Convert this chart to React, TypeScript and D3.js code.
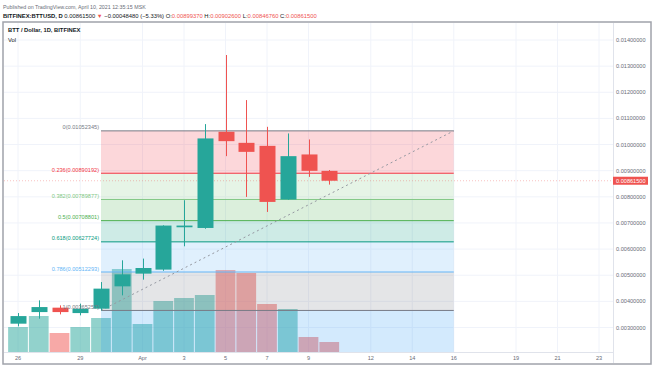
import React from "react";
import * as d3 from "d3";

const dates = ["2021-03-26","2021-03-27","2021-03-28","2021-03-29","2021-03-30","2021-03-31","2021-04-01","2021-04-02","2021-04-03","2021-04-04","2021-04-05","2021-04-06","2021-04-07","2021-04-08","2021-04-09","2021-04-10"];
const opens = [0.003146,0.00359,0.003759,0.003552,0.00372,0.004575,0.005061,0.005215,0.006835,0.006808,0.010487,0.010065,0.00995,0.007897,0.009621,0.0089937];
const highs = [0.003552,0.004038,0.003847,0.003912,0.004739,0.005571,0.005636,0.00691,0.00787,0.010782,0.013425,0.011701,0.010678,0.010425,0.010195,0.009026];
const lows = [0.003042,0.003337,0.003502,0.003464,0.003653,0.00423,0.004831,0.00517,0.006107,0.006778,0.009556,0.007996,0.007421,0.00789,0.008762,0.0084676];
const closes = [0.003437,0.003782,0.00359,0.00372,0.004487,0.005034,0.005276,0.0069,0.0069,0.010234,0.01013,0.00972,0.007805,0.009556,0.008994,0.008615];
const volumes = [25,36,19,25,34,83,28,51,54,57,82,79,48,43,15,10];

const priceTicks = [0.003,0.004,0.005,0.006,0.007,0.008,0.009,0.01,0.011,0.012,0.013,0.014];
const timeTickDates = ["2021-03-26","2021-03-29","2021-04-01","2021-04-03","2021-04-05","2021-04-07","2021-04-09","2021-04-12","2021-04-14","2021-04-16","2021-04-19","2021-04-21","2021-04-23"];
const timeTickLabels = ["26","29","Apr","3","5","7","9","12","14","16","19","21","23"];

const fibLevels = [0, 0.236, 0.382, 0.5, 0.618, 0.786, 1, 1.618];
const fibPrices = [0.01052345, 0.00890192, 0.00789877, 0.00708801, 0.00627724, 0.00512293, 0.00365257, -0.00059351];
const fibColors = ["#787b86", "#f23645", "#81c784", "#4caf50", "#089981", "#64b5f6", "#787b86", "#2196f3"];
const fibStart = "2021-03-30";
const fibEnd = "2021-04-16";

const lastPrice = 0.008615;

const headerParts = [
  { t: "BITFINEX:BTTUSD, D", c: "#131722", b: true },
  { t: " 0.00861500 ", c: "#131722", b: false },
  { t: "▼", c: "#ef5350", b: false },
  { t: " −0.00048480 (−5.33%) O:", c: "#131722", b: false },
  { t: "0.00899370", c: "#ef5350", b: false },
  { t: " H:", c: "#131722", b: false },
  { t: "0.00902600", c: "#ef5350", b: false },
  { t: " L:", c: "#131722", b: false },
  { t: "0.00846760", c: "#ef5350", b: false },
  { t: " C:", c: "#131722", b: false },
  { t: "0.00861500", c: "#ef5350", b: false },
];

const W = 654, H = 366;
const plotL = 4, plotR = 613, plotT = 23, plotB = 352;
const FONT = "'Liberation Sans', Arial, sans-serif";
const UP = "#26a69a", DOWN = "#ef5350";

export default function App() {
  const parse = d3.utcParse("%Y-%m-%d");
  const x = d3.scaleUtc().domain([parse("2021-03-26")!, parse("2021-04-23")!]).range([18, 599]);
  const y = d3.scaleLinear().domain([0.003, 0.014]).range([327.5, 40]);
  const yv = d3.scaleLinear().domain([0, 100]).range([plotB, plotB - 100]);
  const step = x(parse("2021-03-27")!) - x(parse("2021-03-26")!);
  const bodyW = step * 0.77;
  const fx0 = x(parse(fibStart)!), fx1 = x(parse(fibEnd)!);
  const fmt = (v: number) => v.toFixed(8);

  return (
    <svg width={W} height={H} style={{ position: "absolute", left: 0, top: 0, background: "#fff" }} fontFamily={FONT}>
      <defs>
        <clipPath id="plot"><rect x={plotL} y={plotT} width={plotR - plotL} height={plotB - plotT} /></clipPath>
      </defs>
      {/* header */}
      <text x={3} y={8.5} fontSize={5.3} fill="#6a6d78">Published on TradingView.com, April 10, 2021 12:35:15 MSK</text>
      <text x={3} y={18} fontSize={5.85} fill="#131722">
        {headerParts.map((p, i) => (
          <tspan key={i} fill={p.c} fontWeight={p.b ? "bold" : "normal"}>{p.t}</tspan>
        ))}
      </text>
      {/* grid */}
      {priceTicks.map((p, i) => (
        <line key={"hg" + i} x1={plotL} x2={plotR} y1={y(p)} y2={y(p)} stroke="#f0f3fa" />
      ))}
      {timeTickDates.map((d, i) => (
        <line key={"vg" + i} x1={x(parse(d)!)} x2={x(parse(d)!)} y1={plotT} y2={plotB} stroke="#f0f3fa" />
      ))}
      <g clipPath="url(#plot)">
        {/* volume */}
        {dates.map((d, i) => {
          const cx = x(parse(d)!);
          return (
            <rect key={"v" + i} x={cx - step / 2 + 0.5} width={step - 1} y={yv(volumes[i])} height={plotB - yv(volumes[i])}
              fill={closes[i] >= opens[i] ? "rgba(38,166,154,0.5)" : "rgba(239,83,80,0.5)"} />
          );
        })}
        {/* fib bands */}
        {fibLevels.slice(1).map((lvl, i) => {
          const top = y(fibPrices[i]);
          const bot = y(fibPrices[i + 1]);
          return <rect key={"fb" + i} x={fx0} width={fx1 - fx0} y={top} height={bot - top} fill={fibColors[i + 1]} fillOpacity={0.2} />;
        })}
        {fibLevels.map((lvl, i) => (
          <line key={"fl" + i} x1={fx0} x2={fx1} y1={y(fibPrices[i])} y2={y(fibPrices[i])} stroke={fibColors[i]} strokeWidth={1} />
        ))}
        <line x1={fx0} y1={y(fibPrices[6])} x2={fx1} y2={y(fibPrices[0])} stroke="#9598a1" strokeDasharray="2,3" strokeWidth={1} />
        {/* last price line */}
        <line x1={plotL} x2={plotR} y1={y(lastPrice)} y2={y(lastPrice)} stroke={DOWN} strokeOpacity={0.35} strokeDasharray="1,2" />
        {/* candles */}
        {dates.map((d, i) => {
          const cx = Math.round(x(parse(d)!)) + 0.5;
          const up = closes[i] >= opens[i];
          const c = up ? UP : DOWN;
          const t = y(Math.max(opens[i], closes[i]));
          const b = y(Math.min(opens[i], closes[i]));
          return (
            <g key={"c" + i}>
              <line x1={cx} x2={cx} y1={y(highs[i])} y2={y(lows[i])} stroke={c} strokeWidth={1} />
              <rect x={cx - bodyW / 2} width={bodyW} y={t} height={Math.max(1, b - t)} fill={c} />
            </g>
          );
        })}
      </g>
      {/* fib labels */}
      {fibLevels.slice(0, 7).map((lvl, i) => (
        <text key={"ft" + i} x={fx0 - 2} y={y(fibPrices[i]) - 1.5} fontSize={5.6} textAnchor="end" fill={fibColors[i]}>
          {`${lvl}(${fmt(fibPrices[i])})`}
        </text>
      ))}
      {/* title */}
      <text x={8} y={32} fontSize={5.8} fontWeight="bold" fill="#131722">BTT / Dollar, 1D, BITFINEX</text>
      <text x={8} y={42} fontSize={5.8} fill="#131722">Vol</text>
      {/* axes separators */}
      <line x1={plotR + 0.5} x2={plotR + 0.5} y1={plotT} y2={363} stroke="#e0e3eb" />
      <line x1={plotL} x2={plotR} y1={plotB + 0.5} y2={plotB + 0.5} stroke="#e0e3eb" />
      {priceTicks.map((p, i) => (
        <text key={"pt" + i} x={616} y={y(p) + 2} fontSize={5.6} fill="#6a6d78">{fmt(p)}</text>
      ))}
      <rect x={613} y={y(lastPrice) - 4} width={35} height={8} fill={DOWN} />
      <text x={616} y={y(lastPrice) + 2} fontSize={5.6} fill="#fff">{fmt(lastPrice)}</text>
      {timeTickDates.map((d, i) => (
        <text key={"tt" + i} x={x(parse(d)!)} y={360} fontSize={5.6} textAnchor="middle" fill="#6a6d78">{timeTickLabels[i]}</text>
      ))}
      {/* frame */}
      <rect x={3} y={22} width={648} height={342} fill="none" stroke="#a0a3ab" strokeWidth={1.5} />
    </svg>
  );
}
